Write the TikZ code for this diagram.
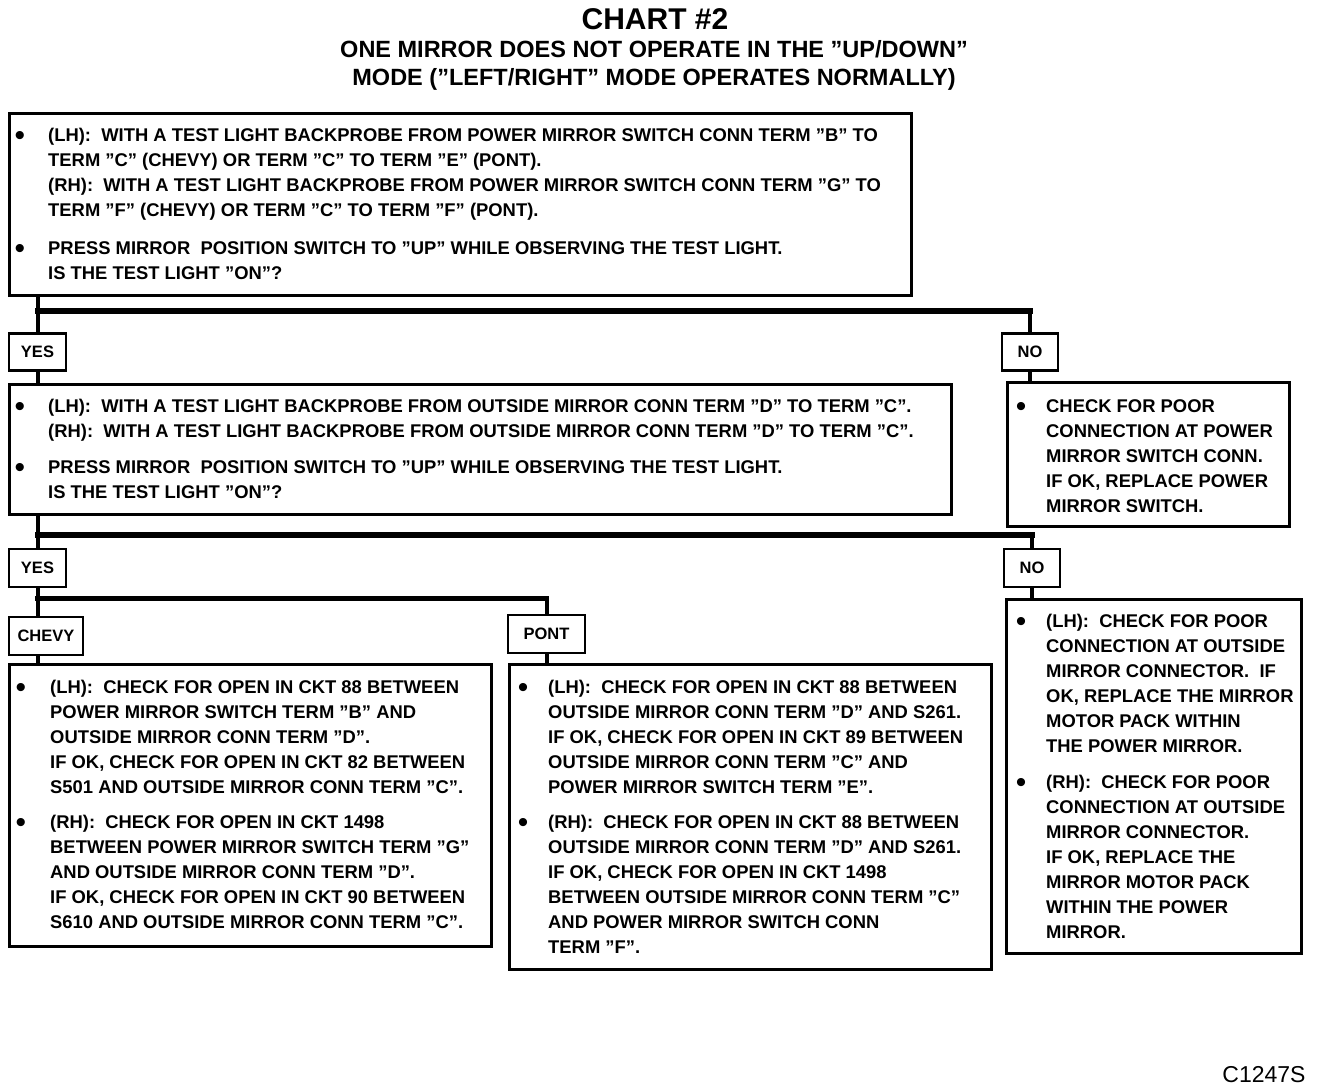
\documentclass[tikz,border=0pt]{standalone}
\usepackage{fontspec}
\setmainfont{Liberation Sans}
\newcommand{\lns}[1]{\begin{tabular}[t]{@{}l@{}}#1\end{tabular}}
\tikzset{
  box/.style={draw, line width=2.6pt, anchor=north west, inner sep=0pt},
  lbl/.style={draw, line width=2.4pt, inner sep=0pt, font=\fontsize{16.5}{18}\selectfont\bfseries},
  txt/.style={anchor=base west, inner sep=0pt, font=\fontsize{18.4}{25}\selectfont\bfseries},
  bul/.style={inner sep=0pt, font=\fontsize{30}{30}\selectfont, yshift=-3pt},
  conn/.style={line width=4pt},
  branch/.style={line width=6pt, line cap=rect},
}
\begin{document}
\begin{tikzpicture}[x=1pt,y=-1pt]
\useasboundingbox[fill=white] (0,0) rectangle (1328,1090);
% titles
\node[font=\fontsize{30}{32}\selectfont\bfseries] (title) at (655,19) {CHART \#2};
\node[font=\fontsize{23.5}{30}\selectfont\bfseries] (sub1) at (654,49) {ONE MIRROR DOES NOT OPERATE IN THE "UP/DOWN"};
\node[font=\fontsize{23.5}{30}\selectfont\bfseries] (sub2) at (654,79) {MODE ("LEFT/RIGHT" MODE OPERATES NORMALLY)};
% boxes
\node[box, minimum width=902pt, minimum height=182pt] (b1) at (8,112) {};
\node[box, minimum width=942pt, minimum height=130pt] (b2) at (8,383) {};
\node[box, minimum width=282pt, minimum height=144pt] (b3) at (1006,381) {};
\node[box, minimum width=482pt, minimum height=282pt] (bc) at (8,663) {};
\node[box, minimum width=482pt, minimum height=305pt] (bp) at (508,663) {};
\node[box, minimum width=295pt, minimum height=354pt] (bn) at (1005,598) {};
% labels
\node[lbl, minimum width=57pt, minimum height=37pt] (yes1) at (37.5,352) {YES};
\node[lbl, minimum width=56pt, minimum height=37pt] (no1) at (1030,352) {NO};
\node[lbl, minimum width=57pt, minimum height=38pt] (yes2) at (37.5,568) {YES};
\node[lbl, minimum width=56pt, minimum height=38pt] (no2) at (1032,568) {NO};
\node[lbl, minimum width=74pt, minimum height=38pt] (chevy) at (46,636) {CHEVY};
\node[lbl, minimum width=77pt, minimum height=38pt] (pont) at (546.5,634) {PONT};
% box 1 text
\node[bul] (b1u1) at (20,135) {•};
\node[txt] (b1t1) at (48,141) {\lns{(LH):\ \ WITH A TEST LIGHT BACKPROBE FROM POWER MIRROR SWITCH CONN TERM "B" TO\\ TERM "C" (CHEVY) OR TERM "C" TO TERM "E" (PONT).\\ (RH):\ \ WITH A TEST LIGHT BACKPROBE FROM POWER MIRROR SWITCH CONN TERM "G" TO\\ TERM "F" (CHEVY) OR TERM "C" TO TERM "F" (PONT).}};
\node[bul] (b1u2) at (20,248) {•};
\node[txt] (b1t2) at (48,254) {\lns{PRESS MIRROR\ \ POSITION SWITCH TO "UP" WHILE OBSERVING THE TEST LIGHT.\\ IS THE TEST LIGHT "ON"?}};
% box 2 text
\node[bul] (b2u1) at (20,406) {•};
\node[txt] (b2t1) at (48,412) {\lns{(LH):\ \ WITH A TEST LIGHT BACKPROBE FROM OUTSIDE MIRROR CONN TERM "D" TO TERM "C".\\ (RH):\ \ WITH A TEST LIGHT BACKPROBE FROM OUTSIDE MIRROR CONN TERM "D" TO TERM "C".}};
\node[bul] (b2u2) at (20,467) {•};
\node[txt] (b2t2) at (48,473) {\lns{PRESS MIRROR\ \ POSITION SWITCH TO "UP" WHILE OBSERVING THE TEST LIGHT.\\ IS THE TEST LIGHT "ON"?}};
% box 3 text
\node[bul] (b3u1) at (1021,406) {•};
\node[txt] (b3t1) at (1046,412) {\lns{CHECK FOR POOR\\ CONNECTION AT POWER\\ MIRROR SWITCH CONN.\\ IF OK, REPLACE POWER\\ MIRROR SWITCH.}};
% chevy box text
\node[bul] (bcu1) at (21,687) {•};
\node[txt] (bct1) at (50,693) {\lns{(LH):\ \ CHECK FOR OPEN IN CKT 88 BETWEEN\\ POWER MIRROR SWITCH TERM "B" AND\\ OUTSIDE MIRROR CONN TERM "D".\\ IF OK, CHECK FOR OPEN IN CKT 82 BETWEEN\\ S501 AND OUTSIDE MIRROR CONN TERM "C".}};
\node[bul] (bcu2) at (21,822) {•};
\node[txt] (bct2) at (50,828) {\lns{(RH):\ \ CHECK FOR OPEN IN CKT 1498\\ BETWEEN POWER MIRROR SWITCH TERM "G"\\ AND OUTSIDE MIRROR CONN TERM "D".\\ IF OK, CHECK FOR OPEN IN CKT 90 BETWEEN\\ S610 AND OUTSIDE MIRROR CONN TERM "C".}};
% pont box text
\node[bul] (bpu1) at (523,687) {•};
\node[txt] (bpt1) at (548,693) {\lns{(LH):\ \ CHECK FOR OPEN IN CKT 88 BETWEEN\\ OUTSIDE MIRROR CONN TERM "D" AND S261.\\ IF OK, CHECK FOR OPEN IN CKT 89 BETWEEN\\ OUTSIDE MIRROR CONN TERM "C" AND\\ POWER MIRROR SWITCH TERM "E".}};
\node[bul] (bpu2) at (523,822) {•};
\node[txt] (bpt2) at (548,828) {\lns{(RH):\ \ CHECK FOR OPEN IN CKT 88 BETWEEN\\ OUTSIDE MIRROR CONN TERM "D" AND S261.\\ IF OK, CHECK FOR OPEN IN CKT 1498\\ BETWEEN OUTSIDE MIRROR CONN TERM "C"\\ AND POWER MIRROR SWITCH CONN\\ TERM "F".}};
% no2 box text
\node[bul] (bnu1) at (1021,621) {•};
\node[txt] (bnt1) at (1046,627) {\lns{(LH):\ \ CHECK FOR POOR\\ CONNECTION AT OUTSIDE\\ MIRROR CONNECTOR.\ \ IF\\ OK, REPLACE THE MIRROR\\ MOTOR PACK WITHIN\\ THE POWER MIRROR.}};
\node[bul] (bnu2) at (1021,782) {•};
\node[txt] (bnt2) at (1046,788) {\lns{(RH):\ \ CHECK FOR POOR\\ CONNECTION AT OUTSIDE\\ MIRROR CONNECTOR.\\ IF OK, REPLACE THE\\ MIRROR MOTOR PACK\\ WITHIN THE POWER\\ MIRROR.}};
% code
\node[font=\fontsize{23}{26}\selectfont] (code) at (1264,1075) {C1247S};
% connectors
\coordinate (j1) at (37.5,311);
\coordinate (j2) at (37.5,535);
\coordinate (j3) at (37.5,598);
\draw[conn] (yes1.north |- b1.south) -- (yes1.north);
\draw[branch] (j1) -- (j1 -| no1.north);
\draw[conn] (j1 -| no1.north) -- (no1.north);
\draw[conn] (yes1.south) -- (yes1.south |- b2.north);
\draw[conn] (no1.south) -- (no1.south |- b3.north);
\draw[conn] (yes2.north |- b2.south) -- (yes2.north);
\draw[branch] (j2) -- (j2 -| no2.north);
\draw[conn] (j2 -| no2.north) -- (no2.north);
\draw[conn] (no2.south) -- (no2.south |- bn.north);
\draw[conn] (yes2.south) -- (chevy.north -| yes2.south);
\draw[branch, line width=5pt] (j3) -- (j3 -| pont.north);
\draw[conn] (j3 -| pont.north) -- (pont.north);
\draw[conn] (chevy.south -| yes2.south) -- (yes2.south |- bc.north);
\draw[conn] (pont.south) -- (pont.south |- bp.north);
\end{tikzpicture}
\end{document}
